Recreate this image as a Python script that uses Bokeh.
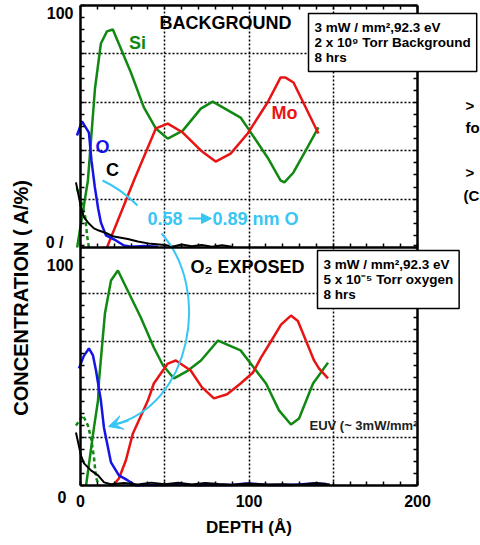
import numpy as np
from math import pi
from bokeh.plotting import figure
from bokeh.models import (Range1d, LinearAxis, FixedTicker, Grid, Label,
                          Arrow, NormalHead, VeeHead)
from bokeh.embed import file_html
from bokeh.resources import INLINE

# ---------------- data ----------------
# Upper panel: background vacuum, 8 hrs
bg_si_depth = [-2.0, 4.4, 8.6, 12.1, 15.7, 19.2, 29.9, 37.6, 44.7, 51.8, 60.7, 71.4, 78.5,
               95.0, 100.3, 111.0, 118.7, 121.0, 126.4, 134.6, 141.2]
bg_si_conc = [0.0, 27.7, 65.7, 84.3, 89.3, 90.1, 72.3, 57.9, 49.2, 45.0, 48.3, 57.4, 60.3,
              53.7, 48.3, 37.2, 27.7, 26.9, 31.0, 41.3, 49.6]
bg_sio_depth = [-2.1, 0.3, 2.7, 3.9, 5.0]
bg_sio_conc = [24.4, 19.4, 13.2, 5.0, 0.0]
bg_mo_depth = [15.7, 31.7, 44.7, 51.8, 60.7, 71.4, 80.2, 89.1, 99.2, 111.0, 118.7, 121.7, 126.4, 141.2]
bg_mo_conc = [0.0, 27.7, 49.2, 51.2, 47.5, 40.1, 35.5, 38.8, 47.1, 59.9, 70.2, 70.2, 68.2, 47.1]
bg_o_depth = [-2.1, 0.9, 5.0, 6.5, 8.5, 10.5, 12.1, 15.1, 21.0, 25.8, 30.0, 38.0, 46.0]
bg_o_conc = [46.3, 52.1, 47.5, 36.0, 25.0, 16.0, 10.3, 5.0, 2.9, 0.8, 0.3, 0.6, 0.3]
bg_c_depth = [-2.7, 0.3, 2.1, 5.0, 8.0, 10.9, 15.1, 19.8, 28.1, 34.0, 41.8, 50.0, 55.0, 60.0,
              66.0, 72.0, 78.0, 84.0, 90.0]
bg_c_conc = [26.9, 16.5, 12.4, 9.9, 7.9, 7.0, 6.0, 4.5, 3.5, 2.5, 1.5, 1.0, 0.4, 1.2,
             0.5, 1.0, 0.3, 0.9, 0.3]

# Lower panel: O2 exposed, 8 hrs
ox_si_depth = [3.3, 8.0, 10.4, 11.0, 14.5, 18.1, 22.2, 35.8, 43.5, 49.0, 55.5, 63.8, 71.5, 81.6,
               95.0, 110.1, 117.8, 124.9, 129.7, 138.0, 146.9]
ox_si_conc = [0.0, 24.2, 35.4, 43.8, 71.7, 85.4, 89.6, 70.0, 57.5, 50.0, 44.6, 47.9, 52.1, 60.4,
              56.3, 42.5, 31.3, 25.4, 27.9, 42.5, 51.2]
ox_sio_depth = [-2.7, 1.5, 4.4, 6.2, 8.0, 9.2, 11.0]
ox_sio_conc = [25.0, 29.2, 25.0, 20.0, 11.7, 3.3, 0.0]
ox_mo_depth = [19.2, 22.8, 26.9, 31.1, 34.6, 40.0, 43.5, 51.8, 56.6, 65.4, 72.0, 79.2, 87.0, 95.0,
               102.4, 107.1, 113.0, 119.0, 124.9, 129.0, 134.0, 138.6, 141.5, 146.9]
ox_mo_conc = [0.0, 2.9, 10.4, 21.7, 27.1, 35.4, 42.5, 50.8, 52.1, 47.9, 41.0, 36.3, 38.0, 42.5,
              47.1, 53.3, 60.0, 67.0, 70.8, 68.5, 60.0, 52.1, 48.8, 44.6]
ox_o_depth = [-0.9, 2.0, 5.0, 7.4, 9.2, 12.1, 13.9, 15.1, 18.1, 22.8, 28.1, 32.9, 40.0, 50.0,
              60.0, 70.0, 80.0, 90.0, 98.0, 104.0, 112.0, 125.0, 138.0, 146.0]
ox_o_conc = [48.8, 54.0, 57.1, 54.2, 47.9, 35.4, 24.2, 20.0, 9.6, 4.2, 2.1, 0.0, 0.3, 0.2,
             0.4, 0.1, 0.3, 0.2, 0.8, 0.6, 0.2, 0.2, 0.8, 0.6]
ox_c_depth = [-2.7, 0.3, 2.1, 6.2, 10.4, 14.0, 18.0, 26.0, 34.0, 42.0, 50.0, 58.0, 66.0, 74.0,
              82.0, 90.0, 100.0, 110.0, 120.0, 130.0, 140.0, 148.0]
ox_c_conc = [22.1, 12.5, 9.2, 6.3, 4.2, 1.3, 0.5, 1.0, 0.4, 1.2, 0.5, 1.1, 0.4, 1.0,
             0.6, 0.3, 0.8, 0.4, 0.5, 0.3, 1.0, 0.4]

# axis tick values / labels
x_tick_values = [0, 100, 200]
x_minor_values = list(range(0, 201, 10))
y_pct_ticks = list(range(0, 101, 5))
y_grid_values = [20, 40, 60, 80]
x_grid_values = [50, 100, 150]
y_tick_texts = ["100", "0 /", "100", "0"]

# ---------------- layout (pixel anchors of the two panels) ----------------
W, H = 480, 545
X0_PX, X200_PX = 80, 417          # depth 0 and 200 A
LO_0_PX, LO_SCALE = 485, 2.4      # lower panel: 0 % row, px per %
UP_0_PX, UP_SCALE = 247, 2.42     # upper panel: 0 % row, px per %
SX = (X200_PX - X0_PX) / 200.0

FONT = "Liberation Sans"
GREEN = "#118811"
RED = "#E81414"
BLUE = "#1414E6"
CYAN = "#38C6F4"

x_range = Range1d(-X0_PX / SX, (W - X0_PX) / SX)
y_range = Range1d(-(H - LO_0_PX) / LO_SCALE, LO_0_PX / LO_SCALE)
top_range = Range1d(-(H - UP_0_PX) / UP_SCALE, UP_0_PX / UP_SCALE)


def at(px, py):
    """reference pixel position -> data coordinates of the default ranges (annotations only)"""
    return (px - X0_PX) / SX, (LO_0_PX - py) / LO_SCALE


def top_to_default(t):
    return round((LO_0_PX - (UP_0_PX - t * UP_SCALE)) / LO_SCALE, 6)


Y_TOP_DEF = top_to_default(100)   # upper edge of the upper panel in default units

p = figure(width=W, height=H, x_range=x_range, y_range=y_range,
           x_axis_location=None, y_axis_location=None,
           output_backend="svg", toolbar_location=None, min_border=0)
p.extra_y_ranges = {"top": top_range}
p.center = []                      # drop the default grids
p.outline_line_color = None
p.background_fill_color = "white"
p.border_fill_color = "white"

left_ticks = [float(v) for v in y_pct_ticks] + [top_to_default(t) for t in y_pct_ticks]


def style_axis(ax):
    ax.axis_line_width = 2.5
    ax.axis_line_color = "black"
    ax.major_tick_in = 4
    ax.major_tick_out = 0
    ax.minor_tick_in = 4
    ax.minor_tick_out = 0
    ax.major_tick_line_width = 1.5
    ax.minor_tick_line_width = 1.5
    ax.major_tick_line_color = "black"
    ax.minor_tick_line_color = "black"


# bottom axis of the lower panel
xa = LinearAxis(fixed_location=0, bounds=(0, 200),
                ticker=FixedTicker(ticks=x_tick_values, minor_ticks=x_minor_values))
style_axis(xa)
xa.major_label_text_font = FONT
xa.major_label_text_font_style = "bold"
xa.major_label_text_font_size = "16px"
xa.major_label_text_color = "black"
xa.major_label_standoff = 9
xa.axis_label = "DEPTH (Å)"
xa.axis_label_text_font = FONT
xa.axis_label_text_font_style = "bold"
xa.axis_label_text_font_size = "17px"
xa.axis_label_text_color = "black"
xa.axis_label_standoff = 8
p.add_layout(xa, "below")

# bottom axis of the upper panel (separator)
mid = LinearAxis(fixed_location=0, y_range_name="top", bounds=(0, 200),
                 ticker=FixedTicker(ticks=[], minor_ticks=x_minor_values))
style_axis(mid)
p.add_layout(mid, "below")

# top axis of the upper panel
top_ax = LinearAxis(fixed_location=100, y_range_name="top", bounds=(0, 200),
                    ticker=FixedTicker(ticks=[], minor_ticks=x_minor_values))
style_axis(top_ax)
p.add_layout(top_ax, "above")

# left and right axes (both panels)
ya = LinearAxis(fixed_location=0, bounds=(0, Y_TOP_DEF),
                ticker=FixedTicker(ticks=[], minor_ticks=left_ticks))
style_axis(ya)
p.add_layout(ya, "left")
right_ax = LinearAxis(fixed_location=200, bounds=(0, Y_TOP_DEF),
                      ticker=FixedTicker(ticks=[], minor_ticks=left_ticks))
style_axis(right_ax)
p.add_layout(right_ax, "right")

# dotted grids
GRID_STYLE = dict(grid_line_color="black", grid_line_dash="2 2", grid_line_width=1.5)
HAS_CROSS = "cross_bounds" in Grid.properties()
if HAS_CROSS:
    p.add_layout(Grid(dimension=0, ticker=FixedTicker(ticks=x_grid_values),
                      bounds=(0, 200), cross_bounds=(0, Y_TOP_DEF), **GRID_STYLE))
    p.add_layout(Grid(dimension=1, ticker=FixedTicker(ticks=y_grid_values),
                      bounds=(0, 100), cross_bounds=(0, 200), **GRID_STYLE))
    p.add_layout(Grid(dimension=1, ticker=FixedTicker(ticks=y_grid_values), y_range_name="top",
                      bounds=(0, 100), cross_bounds=(0, 200), **GRID_STYLE))
else:
    n = len(x_grid_values)
    p.segment(x0=x_grid_values, y0=[0] * n, x1=x_grid_values, y1=[Y_TOP_DEF] * n,
              line_color="black", line_dash="2 2", line_width=1.5, level="underlay")
    m = len(y_grid_values)
    p.segment(x0=[0] * m, y0=y_grid_values, x1=[200] * m, y1=y_grid_values,
              line_color="black", line_dash="2 2", line_width=1.5, level="underlay")
    p.segment(x0=[0] * m, y0=y_grid_values, x1=[200] * m, y1=y_grid_values, y_range_name="top",
              line_color="black", line_dash="2 2", line_width=1.5, level="underlay")

# ---------------- curves ----------------
LW = 2.5
p.line(bg_si_depth, bg_si_conc, y_range_name="top", line_color=GREEN, line_width=LW)
p.line(bg_sio_depth, bg_sio_conc, y_range_name="top", line_color=GREEN, line_width=LW, line_dash="4 3")
p.line(bg_mo_depth, bg_mo_conc, y_range_name="top", line_color=RED, line_width=LW)
p.line(bg_o_depth, bg_o_conc, y_range_name="top", line_color=BLUE, line_width=LW)
p.line(bg_c_depth, bg_c_conc, y_range_name="top", line_color="black", line_width=2)

p.line(ox_si_depth, ox_si_conc, line_color=GREEN, line_width=LW)
p.line(ox_sio_depth, ox_sio_conc, line_color=GREEN, line_width=LW, line_dash="4 3")
p.line(ox_mo_depth, ox_mo_conc, line_color=RED, line_width=LW)
p.line(ox_o_depth, ox_o_conc, line_color=BLUE, line_width=LW)
p.line(ox_c_depth, ox_c_conc, line_color="black", line_width=2)


# ---------------- annotations ----------------
def label(text, px, py, size, color="black", align="left", baseline="middle", **kw):
    x, y = at(px, py)
    lab = Label(x=x, y=y, text=text, text_font=FONT, text_font_style="bold",
                text_font_size=f"{size}px", text_color=color, text_align=align,
                text_baseline=baseline, **kw)
    p.add_layout(lab)
    return lab


label("BACKGROUND", 225, 22, 18, align="center")
label("Si", 137, 42, 18, GREEN, align="center")
label("Mo", 284, 112, 18, RED, align="center")
label("O", 102, 146, 18, BLUE, align="center")
label("C", 112, 169, 18, align="center")
label("O\u2082 EXPOSED", 247, 266, 18, align="center")
label("EUV (~ 3mW/mm\u00b2", 309, 425, 13, "#222222")

# y tick labels
for txt, (px, py) in zip(y_tick_texts, [(73, 12), (63, 242), (73, 264), (66, 496)]):
    label(txt, px, py, 16, align="right")

# y axis title
label("CONCENTRATION ( A/%)", 20, 297, 20, align="center", angle=pi / 2)

# condition boxes
BOX = dict(baseline="top", background_fill_color="white", border_line_color="black",
           border_line_width=1.5, padding=6, text_line_height=1.03)
label("3 mW / mm\u00b2,92.3 eV\n2 x 10\u2079 Torr Background\n8 hrs", 308, 13, 13.5, **BOX)
label("3 mW / mm\u00b2,92.3 eV\n5 x 10\u207b\u2075 Torr oxygen\n8 hrs", 317, 250, 13.5, **BOX)

# cut-off slide text at right
label(">", 465, 105, 15)
label("fo", 465, 127, 15)
label(">", 465, 172, 15)
label("(C", 463, 195, 15)

# oxide thickness annotation
label("0.58", 147, 218, 18, CYAN)
label("0.89 nm O", 212, 218, 18, CYAN)
ax0, ay0 = at(188, 218)
ax1, ay1 = at(211, 218)
p.add_layout(Arrow(end=NormalHead(size=10, fill_color=CYAN, line_color=CYAN),
                   x_start=ax0, y_start=ay0, x_end=ax1, y_end=ay1,
                   line_color=CYAN, line_width=2))

# short cyan stroke near the O peak
s0, s1, s2, s3 = at(102, 180), at(115, 186), at(127, 195), at(137, 205)
p.bezier(x0=[s0[0]], y0=[s0[1]], cx0=[s1[0]], cy0=[s1[1]], cx1=[s2[0]], cy1=[s2[1]],
         x1=[s3[0]], y1=[s3[1]], line_color=CYAN, line_width=2)

# long curved arrow into the lower panel
b0, b1, b2, b3 = at(161, 233), at(212, 290), at(190, 405), at(114, 424)
p.bezier(x0=[b0[0]], y0=[b0[1]], cx0=[b1[0]], cy0=[b1[1]], cx1=[b2[0]], cy1=[b2[1]],
         x1=[b3[0]], y1=[b3[1]], line_color=CYAN, line_width=2)
h0, h1 = at(128, 420), at(108, 426)
p.add_layout(Arrow(end=VeeHead(size=14, fill_color=CYAN, line_color=CYAN),
                   x_start=h0[0], y_start=h0[1], x_end=h1[0], y_end=h1[1],
                   line_color=CYAN, line_width=2))

open("out.html", "w").write(file_html(p, INLINE))
